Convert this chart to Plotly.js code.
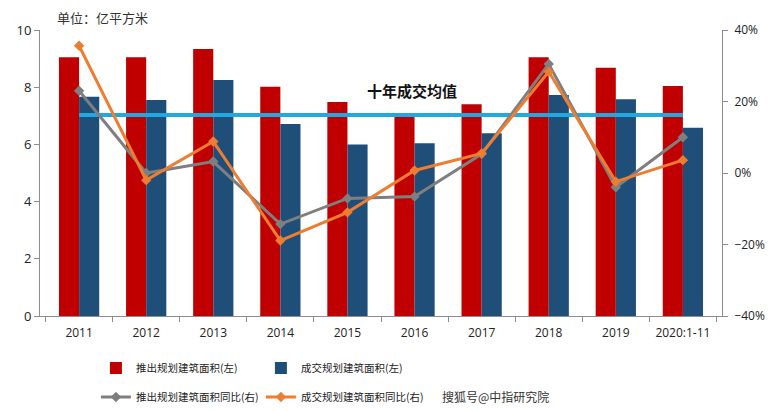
<!DOCTYPE html>
<html>
<head>
<meta charset="utf-8">
<script src="https://cdn.plot.ly/plotly-3.0.1.min.js"></script>
<style>
  body { margin: 0; background: #fff; }
  #plot { width: 777px; height: 411px; }
</style>
</head>
<body>
<div id="plot"></div>
<script>
var years = ['2011', '2012', '2013', '2014', '2015', '2016', '2017', '2018', '2019', '2020:1-11'];
var supplyArea = [9.05, 9.05, 9.34, 8.02, 7.48, 6.98, 7.40, 9.05, 8.68, 8.04];
var dealArea = [7.67, 7.55, 8.25, 6.71, 6.00, 6.04, 6.39, 7.73, 7.58, 6.58];
var supplyYoy = [0.230, 0.000, 0.032, -0.143, -0.071, -0.066, 0.053, 0.305, -0.040, 0.100];
var dealYoy = [0.356, -0.020, 0.088, -0.189, -0.110, 0.007, 0.055, 0.283, -0.024, 0.036];
var tenYearAvg = 7.03;

var cjk = '"Noto Sans CJK SC", "Noto Sans", sans-serif';

var supplyBar = {
    x: years, y: supplyArea,
    name: '推出规划建筑面积(左)',
    type: 'bar',
    marker: {color: '#C00000'},
    legend: 'legend'
}
var dealBar = {
    x: years, y: dealArea,
    name: '成交规划建筑面积(左)',
    type: 'bar',
    marker: {color: '#1F4E79'},
    legend: 'legend'
}
var avgLine = {
    x: [years[0], years[years.length - 1]],
    y: [tenYearAvg, tenYearAvg],
    type: 'scatter', mode: 'lines',
    line: {color: '#20A9E0', width: 4},
    showlegend: false,
    hoverinfo: 'skip'
}
var supplyLine = {
    x: years, y: supplyYoy,
    name: '推出规划建筑面积同比(右)',
    yaxis: 'y2',
    type: 'scatter', mode: 'lines+markers',
    line: {color: '#7F7F7F', width: 3},
    marker: {symbol: 'diamond', size: 8, color: '#7F7F7F'},
    legend: 'legend2'
}
var dealLine = {
    x: years, y: dealYoy,
    name: '成交规划建筑面积同比(右)',
    yaxis: 'y2',
    type: 'scatter', mode: 'lines+markers',
    line: {color: '#ED7D31', width: 3},
    marker: {symbol: 'diamond', size: 8, color: '#ED7D31'},
    legend: 'legend2'
}

var data = [supplyBar, dealBar, avgLine, supplyLine, dealLine];

var legendStyle = {
    orientation: 'h',
    xanchor: 'left', yanchor: 'middle',
    x: 0.082,
    entrywidth: 120, entrywidthmode: 'pixels',
    font: {family: cjk, size: 10.5, color: '#222'},
    itemwidth: 30,
    bgcolor: 'rgba(0,0,0,0)'
}

var layout = {
    width: 777, height: 411,
    margin: {l: 40, r: 55, t: 30, b: 95, autoexpand: false},
    paper_bgcolor: '#fff', plot_bgcolor: '#fff',
    font: {family: '"Open Sans", "Noto Sans", sans-serif', size: 12, color: '#333'},
    barmode: 'group',
    bargap: 0.4,
    bargroupgap: 0,
    showlegend: true,
    xaxis: {
        type: 'category',
        showline: true, linecolor: '#8c8c8c', linewidth: 1,
        ticks: 'outside', tickson: 'boundaries', ticklen: 5, tickcolor: '#8c8c8c',
        tickfont: {size: 12, color: '#222'},
        ticklabelstandoff: 6,
        showgrid: false
    },
    yaxis: {
        range: [0, 10], dtick: 2,
        showline: true, linecolor: '#8c8c8c', linewidth: 1,
        ticks: 'outside', ticklen: 5, tickcolor: '#8c8c8c',
        tickfont: {size: 13, color: '#222'},
        showgrid: false, zeroline: false
    },
    yaxis2: {
        overlaying: 'y', side: 'right',
        range: [-0.4, 0.4], dtick: 0.2, tickformat: '.0%',
        showline: true, linecolor: '#8c8c8c', linewidth: 1,
        ticks: 'outside', ticklen: 5, tickcolor: '#8c8c8c',
        tickfont: {size: 12, color: '#222'},
        ticklabelstandoff: 4,
        showgrid: false, zeroline: false
    },
    legend: Object.assign({}, legendStyle, {y: -0.182}),
    legend2: Object.assign({}, legendStyle, {y: -0.283}),
    annotations: [
        {text: '单位：亿平方米', xref: 'paper', yref: 'paper', x: 0.022, y: 1.042,
         xanchor: 'left', yanchor: 'middle', showarrow: false,
         font: {family: cjk, size: 13, color: '#333'}},
        {text: '<b>十年成交均值</b>', xref: 'paper', yref: 'paper', x: 0.545, y: 0.787,
         xanchor: 'center', yanchor: 'middle', showarrow: false,
         font: {family: cjk, size: 15, color: '#111'}},
        {text: '搜狐号@中指研究院', xref: 'paper', yref: 'paper', x: 0.586, y: -0.283,
         xanchor: 'left', yanchor: 'middle', showarrow: false,
         font: {family: cjk, size: 12, color: '#333'}}
    ]
}
Plotly.newPlot('plot', data, layout, {displayModeBar: false})
</script>
</body>
</html>
